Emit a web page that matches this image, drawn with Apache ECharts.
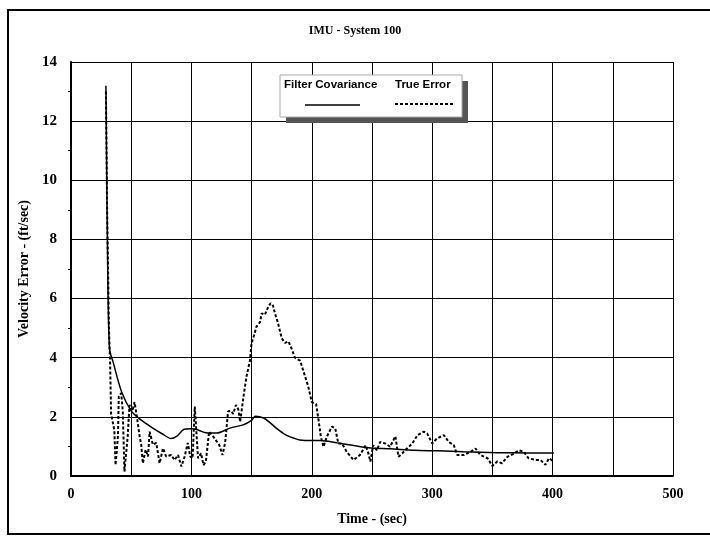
<!DOCTYPE html>
<html>
<head>
<meta charset="utf-8">
<script src="https://cdn.jsdelivr.net/npm/echarts@6/dist/echarts.min.js"></script>
<style>
  html, body { margin: 0; padding: 0; background: #fff; }
  #chart { width: 710px; height: 536px; }
</style>
</head>
<body>
<div id="chart"></div>
<script>
// filter covariance (solid line)
var covTime = [29, 29.5, 30.5, 32, 35, 42, 50, 57, 68, 76, 83, 88, 94, 100, 106, 112, 121, 132, 143, 150, 153, 160, 166, 171, 178, 185, 190, 200, 207, 221, 235, 249, 265, 285, 305, 326, 354, 380, 401];
var covValue = [13.2, 11.0, 7.0, 4.3, 3.85, 2.85, 2.2, 1.93, 1.62, 1.42, 1.27, 1.35, 1.58, 1.6, 1.55, 1.46, 1.45, 1.62, 1.73, 1.88, 2.02, 1.96, 1.78, 1.6, 1.4, 1.28, 1.22, 1.2, 1.2, 1.12, 1.03, 0.95, 0.92, 0.87, 0.85, 0.82, 0.79, 0.78, 0.78];

// true error (dashed line)
var errTime = [29, 30, 31.5, 32.5, 33.3, 36, 37, 39, 39.7, 41.7, 43, 44.4, 47, 48.6, 51, 52.8, 54.7, 57, 58.3, 59.7,
  62, 64, 65.3, 68, 70.8, 73.6, 76.4, 79, 83.3, 86, 88.9, 91.7, 94.4, 97, 99, 101, 102.8, 104, 105.5, 108,
  110, 112, 114.7, 118, 121, 123, 125.8, 128, 130.5, 133, 134.7, 137, 139, 140.5, 143.3, 145.8, 148.6, 150, 152, 154,
  157, 158.3, 161, 163.9, 165.8, 167.5, 169.4, 172, 175, 177.8, 180.6, 183.3, 186, 190.3, 194.4, 197, 200, 203.6, 205.6, 207.5,
  209.7, 212.5, 216.7, 219.5, 222, 225, 229, 234.7, 240, 244.7, 247, 248.6, 251, 254, 256.7, 261, 265, 269.4, 272, 275,
  279, 283.5, 287.7, 293, 295.8, 300, 304, 309.7, 313.8, 318, 320.8, 326.4, 332, 336, 340, 346, 350, 354, 358, 362.5,
  368, 372, 376, 380, 386, 390, 394, 397, 401];
var errValue = [13.0, 9.0, 5.0, 3.8, 2.1, 1.55, 0.37, 1.35, 2.7, 2.8, 2.2, 0.15, 1.3, 2.4, 2.2, 2.5, 2.0, 1.34, 1.06, 0.43,
  0.89, 0.66, 1.5, 1.06, 1.12, 0.43, 0.94, 0.66, 0.71, 0.54, 0.71, 0.32, 0.66, 1.12, 0.66, 0.6, 2.35, 1.58, 0.6, 0.77,
  0.37, 0.48, 1.5, 1.34, 1.17, 1.06, 0.71, 1.12, 2.19, 2.2, 2.1, 2.4, 2.25, 1.83, 2.7, 3.37, 3.9, 4.5, 4.75, 5.05,
  5.2, 5.5, 5.45, 5.73, 5.84, 5.8, 5.5, 5.16, 4.66, 4.5, 4.55, 4.3, 4.0, 3.9, 3.37, 3.03, 2.5, 2.43, 1.9, 1.33,
  0.99, 1.33, 1.67, 1.61, 1.1, 1.1, 0.82, 0.54, 0.71, 1.04, 0.76, 0.49, 1.04, 0.87, 1.15, 1.1, 0.99, 1.34, 0.65, 0.76,
  0.93, 1.1, 1.38, 1.5, 1.44, 1.1, 1.27, 1.38, 1.15, 1.04, 0.71, 0.71, 0.82, 0.93, 0.71, 0.6, 0.34, 0.49, 0.43, 0.65,
  0.76, 0.87, 0.82, 0.6, 0.54, 0.54, 0.38, 0.6, 0.49];

var xTicks = [0, 100, 200, 300, 400, 500];
var yTicks = [0, 2, 4, 6, 8, 10, 12, 14];

function zip(a, b) {
  return a.map(function (t, i) { return [t, b[i]]; });
}

var serif = 'Liberation Serif';
var sans = 'Liberation Sans';

var myChart = echarts.init(document.getElementById('chart'));
myChart.setOption({
  backgroundColor: '#fff',
  animation: false,
  title: {
    text: 'IMU - System 100',
    left: 'center',
    top: 20,
    textStyle: { fontFamily: serif, fontWeight: 'bold', fontSize: 12, color: '#000' }
  },
  grid: { left: 71, right: 37, top: 62, bottom: 60 },
  xAxis: {
    type: 'value',
    min: 0,
    max: 500,
    interval: 50,
    name: 'Time - (sec)',
    nameLocation: 'middle',
    nameGap: 36,
    nameTextStyle: { fontFamily: serif, fontWeight: 'bold', fontSize: 14, color: '#000' },
    axisLine: { lineStyle: { color: '#000', width: 2 } },
    axisTick: { show: false },
    axisLabel: {
      fontFamily: serif, fontWeight: 'bold', fontSize: 14, color: '#000', margin: 11,
      formatter: function (v) { return xTicks.indexOf(v) >= 0 ? String(v) : ''; }
    },
    splitLine: { show: true, lineStyle: { color: '#000', width: 1 } }
  },
  yAxis: {
    type: 'value',
    min: 0,
    max: 14,
    interval: 2,
    name: 'Velocity Error - (ft/sec)',
    nameLocation: 'middle',
    nameGap: 35,
    nameTextStyle: { fontFamily: serif, fontWeight: 'bold', fontSize: 14, color: '#000' },
    axisLine: { show: true, lineStyle: { color: '#000', width: 2 } },
    axisTick: { show: false },
    minorTick: { show: true, splitNumber: 2, length: 3, lineStyle: { color: '#000' } },
    axisLabel: {
      fontFamily: serif, fontWeight: 'bold', fontSize: 15, color: '#000', margin: 14,
      formatter: function (v) { return yTicks.indexOf(v) >= 0 ? String(v) : ''; }
    },
    splitLine: { show: true, lineStyle: { color: '#000', width: 1 } }
  },
  series: [
    {
      name: 'Filter Covariance',
      type: 'line',
      data: zip(covTime, covValue),
      showSymbol: false,
      smooth: 0.3,
      lineStyle: { color: '#000', width: 1.5 },
      z: 3
    },
    {
      name: 'True Error',
      type: 'line',
      data: zip(errTime, errValue),
      showSymbol: false,
      lineStyle: { color: '#000', width: 2, type: [3, 2] },
      z: 4
    }
  ],
  graphic: [
    // outer frame
    { type: 'rect', shape: { x: 8, y: 10, width: 720, height: 524 }, style: { fill: 'none', stroke: '#000', lineWidth: 2 }, z: 1 },
    // legend box with shadow
    { type: 'rect', shape: { x: 286, y: 81, width: 182, height: 42 }, style: { fill: '#555' }, z: 10 },
    { type: 'rect', shape: { x: 280, y: 75, width: 182, height: 42 }, style: { fill: '#fff', stroke: '#aaa', lineWidth: 1 }, z: 11 },
    { type: 'text', left: 284, top: 79, style: { text: 'Filter Covariance', fontFamily: sans, fontWeight: 'bold', fontSize: 11.5, fill: '#000' }, z: 12 },
    { type: 'text', left: 395, top: 79, style: { text: 'True Error', fontFamily: sans, fontWeight: 'bold', fontSize: 11.5, fill: '#000' }, z: 12 },
    { type: 'line', shape: { x1: 305, y1: 105, x2: 360, y2: 105 }, style: { stroke: '#000', lineWidth: 1.5 }, z: 12 },
    { type: 'line', shape: { x1: 395, y1: 104, x2: 453, y2: 104 }, style: { stroke: '#000', lineWidth: 2, lineDash: [3, 2] }, z: 12 }
  ]
});
</script>
</body>
</html>
